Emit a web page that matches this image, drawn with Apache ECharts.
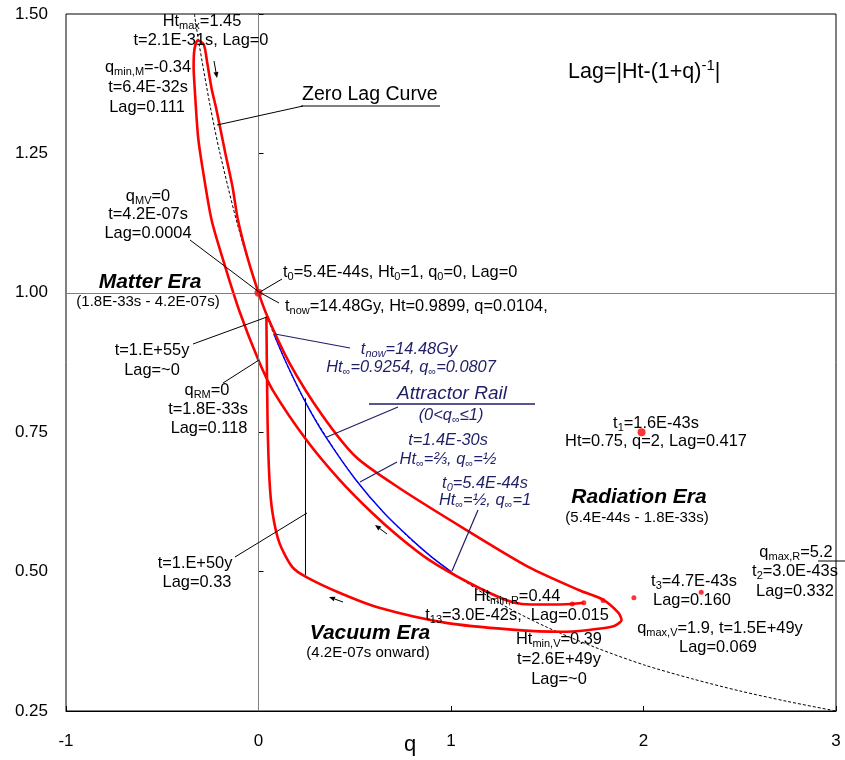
<!DOCTYPE html>
<html>
<head>
<meta charset="utf-8">
<script src="https://cdn.jsdelivr.net/npm/echarts@6/dist/echarts.min.js"></script>
<style>
html,body{margin:0;padding:0;background:#fff}
#chart{width:845px;height:760px}
</style>
</head>
<body>
<div id="chart"></div>
<script>
// [q, Ht] pairs
var radiationBranch = [[1.689,0.444],[1.627,0.442],[1.50,0.441],[1.368,0.442],[1.285,0.449],[1.093,0.480],[0.886,0.521],[0.731,0.562],[0.591,0.605],[0.420,0.665],[0.249,0.736],[0.073,0.826],[0,0.879]]
var matterBranch = [[-0.098,0.966],[-0.176,1.050],[-0.244,1.131],[-0.289,1.220],[-0.314,1.280],[-0.332,1.370],[-0.337,1.405],[-0.333,1.436],[-0.316,1.453],[-0.284,1.445],[-0.267,1.414],[-0.244,1.367],[-0.218,1.328],[-0.172,1.250],[-0.135,1.190],[-0.107,1.131],[-0.057,1.063],[0,1.0004]]
var vacuumBranch = [[0.047,0.957],[0.161,0.874],[0.332,0.780],[0.508,0.705],[0.731,0.650],[1.078,0.575],[1.404,0.508],[1.663,0.467],[1.793,0.449],[1.870,0.426],[1.886,0.413],[1.834,0.401],[1.575,0.392],[1.316,0.396],[0.974,0.408],[0.627,0.435],[0.420,0.462],[0.249,0.490],[0.176,0.508],[0.109,0.551],[0.073,0.605],[0.057,0.664],[0.047,0.772],[0.041,0.957]]
var bigDots = [[0,1],[1.99,0.75]]
var smallDots = [[2.30,0.463],[1.95,0.453],[1.79,0.448],[1.69,0.444],[1.63,0.442]]
var attractorRail = [[0.0807,0.9254],[0.15,0.870],[0.25,0.800],[0.35,0.741],[0.5,0.667],[0.65,0.606],[0.8,0.556],[0.9,0.526],[1,0.5]]
var zeroLagCurve = [[-0.333,1.5],[-0.31,1.449],[-0.25,1.333],[-0.2,1.25],[-0.1,1.111],[0,1],[0.1,0.909],[0.25,0.8],[0.5,0.667],[0.75,0.571],[1,0.5],[1.25,0.444],[1.5,0.4],[1.75,0.364],[2,0.333],[2.25,0.308],[2.5,0.286],[2.75,0.267],[3,0.25]]
var lagBar = [[0.244,0.811],[0.244,0.494]]
var xTicks = ['-1','0','1','2','3']
var yTicks = ['0.25','0.50','0.75','1.00','1.25','1.50']

var FONT = '"Liberation Sans", Arial, sans-serif'
var NAVY = '#1f1f66'

function rich(c, it, b, fs) {
	var base = {fill: c, fontFamily: FONT, fontStyle: it ? 'italic' : 'normal', fontWeight: b ? 'bold' : 'normal'}
	return {
		s: Object.assign({fontSize: Math.round(fs * 0.68), lineHeight: Math.round(fs * 0.68), verticalAlign: 'bottom'}, base),
		u: Object.assign({fontSize: Math.round(fs * 0.68), lineHeight: Math.round(fs * 0.68), verticalAlign: 'top'}, base)
	}
}
function txt(x, y, s, o) {
	o = o || {}
	var fs = o.fs || 16.4, c = o.c || '#000'
	return {
		type: 'text', x: x, y: y, z: 100,
		style: {
			text: s, fill: c, align: o.a || 'center', verticalAlign: 'middle',
			fontFamily: FONT, fontSize: fs, fontStyle: o.it ? 'italic' : 'normal', fontWeight: o.b ? 'bold' : 'normal',
			lineHeight: Math.round(fs * 1.25),
			rich: rich(c, o.it, o.b, fs)
		}
	}
}
function seg(x1, y1, x2, y2, c, w) {
	return {type: 'line', z: 90, shape: {x1: x1, y1: y1, x2: x2, y2: y2}, style: {stroke: c || '#000', lineWidth: w || 1}}
}
function arrow(x1, y1, x2, y2) {
	var a = Math.atan2(y2 - y1, x2 - x1), h = 6, w = 2.5
	var bx = x2 - h * Math.cos(a), by = y2 - h * Math.sin(a)
	return [
		seg(x1, y1, bx, by),
		{type: 'polygon', z: 90, shape: {points: [[x2, y2], [bx + w * Math.sin(a), by - w * Math.cos(a)], [bx - w * Math.sin(a), by + w * Math.cos(a)]]}, style: {fill: '#000'}}
	]
}

var nv = {c: NAVY, it: true}
var graphics = [
	txt(202, 21, 'Ht{s|max}=1.45'),
	txt(201, 40, 't=2.1E-31s, Lag=0'),
	txt(148, 67, 'q{s|min,M}=-0.34'),
	txt(148, 87, 't=6.4E-32s'),
	txt(147, 107, 'Lag=0.111'),
	txt(302, 95, 'Zero Lag Curve', {a: 'left', fs: 19.5}),
	seg(217, 125, 303, 106), seg(301, 106, 440, 106),
	txt(568, 72, 'Lag=|Ht-(1+q){u|-1}|', {a: 'left', fs: 21.5}),
	txt(148, 196, 'q{s|MV}=0'),
	txt(148, 214, 't=4.2E-07s'),
	txt(148, 233, 'Lag=0.0004'),
	seg(190, 240, 259, 292),
	txt(150, 282, 'Matter Era', {b: true, it: true, fs: 21}),
	txt(148, 302, '(1.8E-33s - 4.2E-07s)', {fs: 15}),
	txt(283, 272, 't{s|0}=5.4E-44s, Ht{s|0}=1, q{s|0}=0, Lag=0', {a: 'left'}),
	seg(260, 292, 282, 279),
	txt(285, 306, 't{s|now}=14.48Gy, Ht=0.9899, q=0.0104,', {a: 'left'}),
	seg(259, 292, 279, 303),
	txt(152, 350, 't=1.E+55y'),
	txt(152, 370, 'Lag=~0'),
	seg(193, 344, 267, 317),
	txt(207, 390, 'q{s|RM}=0'),
	txt(208, 409, 't=1.8E-33s'),
	txt(209, 428, 'Lag=0.118'),
	seg(223, 383, 259, 360),
	txt(409, 349, 't{s|now}=14.48Gy', nv),
	txt(411, 367, 'Ht{s|∞}=0.9254, q{s|∞}=0.0807', nv),
	seg(275, 334, 350, 348, NAVY, 1.2),
	txt(452, 394, 'Attractor Rail', {c: NAVY, it: true, fs: 19}),
	seg(369, 404, 535, 404, NAVY, 1.5),
	txt(451, 415, '(0<q{s|∞}≤1)', nv),
	seg(398, 407, 327, 437, NAVY, 1.2),
	txt(448, 440, 't=1.4E-30s', nv),
	txt(448, 459, 'Ht{s|∞}=⅔, q{s|∞}=½', nv),
	seg(397, 462, 360, 482, NAVY, 1.2),
	txt(485, 483, 't{s|0}=5.4E-44s', nv),
	txt(485, 500, 'Ht{s|∞}=½, q{s|∞}=1', nv),
	seg(478, 510, 452, 571, NAVY, 1.2),
	txt(639, 497, 'Radiation Era', {b: true, it: true, fs: 21}),
	txt(637, 518, '(5.4E-44s - 1.8E-33s)', {fs: 15}),
	txt(656, 423, 't{s|1}=1.6E-43s'),
	txt(656, 441, 'Ht=0.75, q=2, Lag=0.417'),
	txt(796, 552, 'q{s|max,R}=5.2'),
	seg(818, 561, 845, 561),
	txt(795, 571, 't{s|2}=3.0E-43s'),
	txt(795, 591, 'Lag=0.332'),
	txt(694, 581, 't{s|3}=4.7E-43s'),
	txt(692, 600, 'Lag=0.160'),
	txt(720, 628, 'q{s|max,V}=1.9, t=1.5E+49y'),
	txt(718, 647, 'Lag=0.069'),
	txt(517, 596, 'Ht{s|min,R}=0.44'),
	txt(517, 615, 't{s|13}=3.0E-42s,  Lag=0.015'),
	txt(559, 639, 'Ht{s|min,V}=0.39'),
	txt(559, 659, 't=2.6E+49y'),
	txt(559, 679, 'Lag=~0'),
	txt(370, 633, 'Vacuum Era', {b: true, it: true, fs: 21}),
	txt(368, 653, '(4.2E-07s onward)', {fs: 15}),
	txt(195, 563, 't=1.E+50y'),
	txt(197, 582, 'Lag=0.33'),
	seg(235, 557, 307, 513),
	txt(410, 745, 'q', {fs: 22})
].concat(arrow(214, 61, 217, 78), arrow(387, 534, 375, 525), arrow(343, 602, 329, 597))

var chart = echarts.init(document.getElementById('chart'))
chart.setOption({
	animation: false,
	grid: {left: 66, right: 9, top: 14, bottom: 49, show: true, borderColor: '#000', borderWidth: 1,
		containLabel: false, outerBoundsMode: 'none'},
	xAxis: {
		type: 'value', min: -1, max: 3, interval: 1,
		axisLine: {lineStyle: {color: '#000'}},
		axisTick: {inside: true, length: 5, lineStyle: {color: '#000'}},
		axisLabel: {margin: 22, color: '#000', fontSize: 17, fontFamily: FONT,
			formatter: function (v) { return xTicks[Math.round(v + 1)] }},
		splitLine: {show: false}
	},
	yAxis: {
		type: 'value', min: 0.25, max: 1.5, interval: 0.25,
		name: 'Ht', nameLocation: 'middle', nameGap: 39,
		nameTextStyle: {fontSize: 22, color: '#000', fontFamily: FONT},
		axisLine: {lineStyle: {color: '#000'}},
		axisTick: {inside: true, length: 5, lineStyle: {color: '#000'}},
		axisLabel: {margin: 18, color: '#000', fontSize: 17, fontFamily: FONT,
			formatter: function (v) { return yTicks[Math.round((v - 0.25) / 0.25)] }},
		splitLine: {show: false}
	},
	series: [
		{
			name: 'zero lag', type: 'line', data: zeroLagCurve, smooth: 0.3, symbol: 'none', z: 2,
			lineStyle: {color: '#000', width: 1, type: [3, 2]},
			markLine: {
				silent: true, symbol: 'none', label: {show: false},
				lineStyle: {color: '#808080', width: 1, type: 'solid'},
				data: [{xAxis: 0}, {yAxis: 1}]
			}
		},
		{name: 'attractor', type: 'line', data: attractorRail, smooth: 0.3, symbol: 'none', z: 3,
			lineStyle: {color: '#0000ff', width: 1.4}},
		{name: 'lag', type: 'line', data: lagBar, symbol: 'none', z: 3,
			lineStyle: {color: '#000', width: 1}},
		{name: 'trajectory', type: 'line', data: radiationBranch.concat(matterBranch, vacuumBranch),
			smooth: 0.25, symbol: 'none', z: 4, lineStyle: {color: '#ff0000', width: 2.6}},
		{name: 'big', type: 'scatter', data: bigDots, symbolSize: 8, z: 5, itemStyle: {color: '#ff0000'}},
		{name: 'small', type: 'scatter', data: smallDots, symbolSize: 5, z: 5, itemStyle: {color: '#ff0000'}}
	],
	graphic: graphics
})
</script>
</body>
</html>
